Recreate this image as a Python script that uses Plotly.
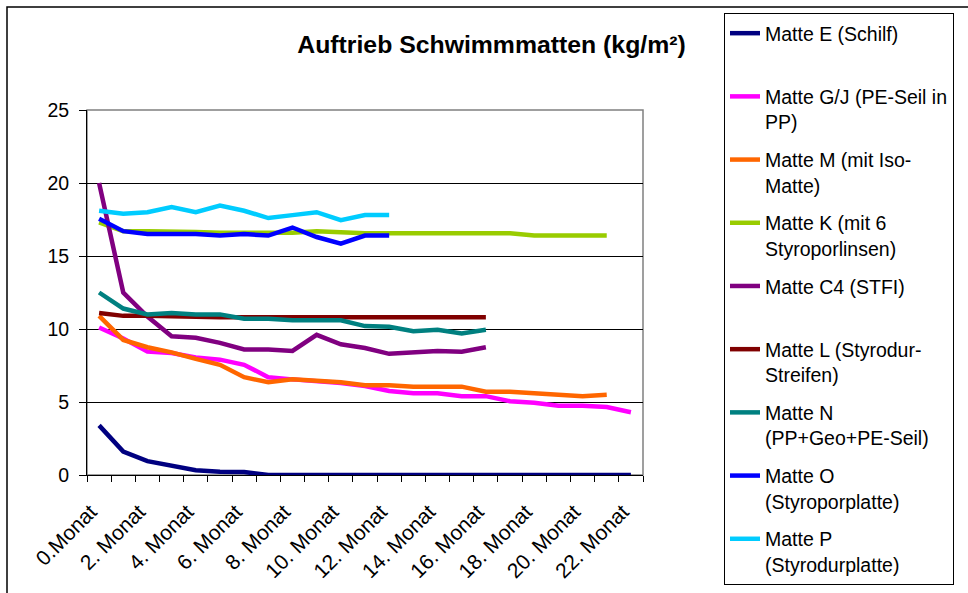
import plotly.graph_objects as go

months = ["0.Monat"] + [f"{i}. Monat" for i in range(1, 23)]
x_idx = list(range(len(months)))

series_names = [
    "Matte E (Schilf)<br>\u00a0",
    "Matte G/J (PE-Seil in<br>PP)",
    "Matte M (mit Iso-<br>Matte)",
    "Matte K (mit 6<br>Styroporlinsen)",
    "Matte C4 (STFI)<br>\u00a0",
    "Matte L (Styrodur-<br>Streifen)",
    "Matte N<br>(PP+Geo+PE-Seil)",
    "Matte O<br>(Styroporplatte)",
    "Matte P<br>(Styrodurplatte)",
]
series_colors = ["#000080", "#FF00FF", "#FF6600", "#99CC00", "#800080",
                 "#800000", "#008080", "#0000FF", "#00CCFF"]

matte_e = [3.4, 1.6, 0.95, 0.62, 0.32, 0.22, 0.2, 0, 0, 0, 0, 0, 0, 0, 0, 0, 0, 0, 0, 0, 0, 0, 0]
matte_gj = [10.1, 9.35, 8.45, 8.35, 8.05, 7.9, 7.55, 6.7, 6.55, 6.45, 6.3, 6.1, 5.75, 5.6, 5.6, 5.4, 5.4,
            5.05, 4.95, 4.75, 4.75, 4.65, 4.3]
matte_m = [10.9, 9.25, 8.75, 8.4, 7.95, 7.55, 6.7, 6.35, 6.55, 6.45, 6.35, 6.15, 6.15, 6.05, 6.05, 6.05,
           5.7, 5.7, 5.6, 5.5, 5.4, 5.5, None]
matte_k = [17.3, 16.7, 16.7, 16.7, 16.65, 16.6, 16.6, 16.6, 16.6, 16.7, 16.6, 16.55, 16.55, 16.55, 16.55,
           16.55, 16.55, 16.55, 16.4, 16.4, 16.4, 16.4, None]
matte_c4 = [20.0, 12.5, 10.85, 9.5, 9.4, 9.05, 8.6, 8.6, 8.5, 9.6, 8.95, 8.7, 8.3, 8.4, 8.5, 8.45, 8.75,
            None, None, None, None, None, None]
matte_l = [11.1, 10.9, 10.9, 10.85, 10.8, 10.8, 10.8, 10.8, 10.8, 10.8, 10.8, 10.75, 10.8, 10.8, 10.8,
           10.8, 10.8, None, None, None, None, None, None]
matte_n = [12.5, 11.4, 11.0, 11.1, 11.0, 11.0, 10.7, 10.7, 10.6, 10.6, 10.6, 10.2, 10.15, 9.85, 9.95,
           9.7, 9.95, None, None, None, None, None, None]
matte_o = [17.55, 16.7, 16.5, 16.5, 16.5, 16.4, 16.5, 16.4, 16.95, 16.3, 15.85, 16.4, 16.4,
           None, None, None, None, None, None, None, None, None, None]
matte_p = [18.1, 17.9, 18.0, 18.35, 18.0, 18.45, 18.1, 17.6, 17.8, 18.0, 17.45, 17.8, 17.8,
           None, None, None, None, None, None, None, None, None, None]

all_series = [matte_e, matte_gj, matte_m, matte_k, matte_c4, matte_l, matte_n, matte_o, matte_p]

FONT = "Liberation Sans, Arial, sans-serif"

fig = go.Figure()
for i, (name, color, vals) in enumerate(zip(series_names, series_colors, all_series)):
    fig.add_trace(go.Scatter(
        x=x_idx, y=vals, name=name, mode="lines",
        line=dict(color=color, width=4.5),
        legendgroup=f"g{i}", connectgaps=False,
    ))

# plot area: x 87..643, y 110..475 (px)
L, R, T, B = 87, 643, 110, 475
W, H = 968, 593
pw, ph = R - L, B - T

def px_x(v):
    return (v - L) / pw

def px_y(v):
    return (B - v) / ph

fig.update_layout(
    width=W, height=H,
    margin=dict(l=L, r=W - R, t=T, b=H - B, pad=0),
    paper_bgcolor="white", plot_bgcolor="white",
    font=dict(family=FONT, size=19.5, color="black"),
    title=dict(text="Auftrieb Schwimmmatten (kg/m²)", font=dict(family=FONT, size=24.8, weight="bold"),
               xref="container", x=491.5 / W, xanchor="center",
               yref="container", y=1 - 44 / H, yanchor="middle"),
    showlegend=True,
    legend=dict(x=px_x(724), xanchor="left", y=px_y(13), yanchor="top",
                bordercolor="black", borderwidth=1, bgcolor="white",
                font=dict(family=FONT, size=19.5), tracegroupgap=9.5, valign="top",
                traceorder="grouped", maxheight=700),
    xaxis=dict(range=[-0.5, 22.5], tickmode="array", tickvals=x_idx[::2],
               ticktext=[m + "\u00a0\u00a0" for m in months[::2]],
               tickangle=-45, ticks="", showgrid=False, zeroline=False,
               showline=True, linecolor="black", linewidth=1, ticklabelstandoff=7,
               minor=dict(tickmode="array", tickvals=[v - 0.5 for v in x_idx] + [x_idx[-1] + 0.5],
                          ticks="outside", ticklen=6, tickcolor="black", tickwidth=1, showgrid=False),
               tickfont=dict(family=FONT, size=21)),
    yaxis=dict(range=[0, 25], tickmode="linear", tick0=0, dtick=5, showgrid=True, gridcolor="black",
               gridwidth=1, zeroline=False, showline=True, linecolor="black", linewidth=1,
               ticks="outside", ticklen=7, tickcolor="black", ticklabelstandoff=6,
               tickfont=dict(size=19.5)),
    shapes=[
        dict(type="rect", xref="paper", yref="paper", x0=0, x1=1, y0=0, y1=1,
             line=dict(color="#808080", width=1.5), layer="between"),
        dict(type="rect", xref="paper", yref="paper", x0=px_x(7), x1=px_x(990), y0=px_y(620), y1=px_y(7),
             line=dict(color="black", width=1.5), layer="above"),
    ],
)

fig.write_html("out.html")
